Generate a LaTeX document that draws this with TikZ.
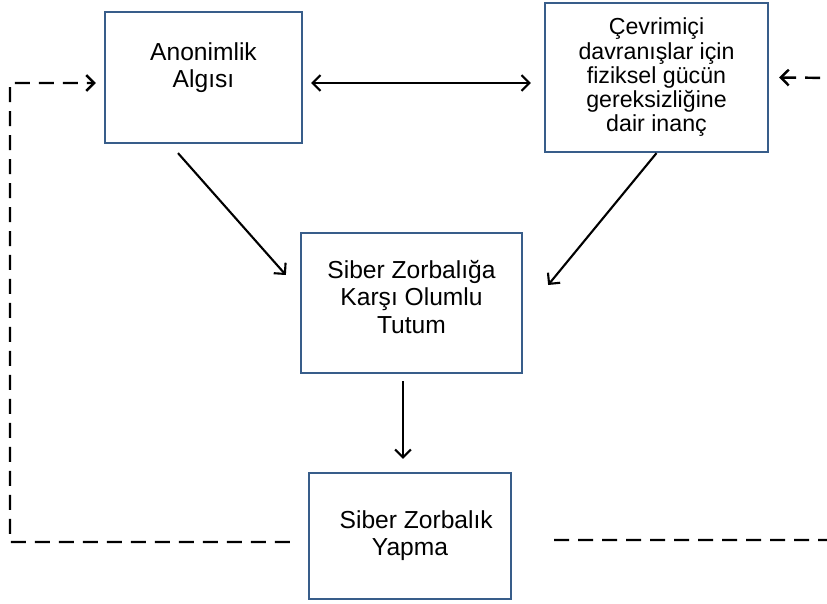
\documentclass[tikz,border=0pt]{standalone}
\usepackage{fontspec}
\setmainfont{Liberation Sans}
\usetikzlibrary{arrows.meta,positioning}
\definecolor{kutumavi}{RGB}{56,93,138}

\begin{document}
\begin{tikzpicture}[x = 0.02cm, y = -0.02cm,
    >={Straight Barb[length=4.5pt,width=9pt]}]
  \tikzset{Kutu/.style = {draw = kutumavi, line width = 1.3pt,
      align = center, inner sep = 0pt,
      font = \fontsize{14}{15.4}\selectfont},
    Ok/.style = {->, line width = 1.2pt},
    Kesik/.style = {Ok, line width = 1.4pt, dash pattern = on 0.3cm off 0.18cm}}
  \clip (0,0) rectangle (827,604);
  % kutular
  \node[Kutu, minimum width = 3.94cm, minimum height = 2.62cm,
    label = {[align = center, yshift = 0.2cm,
      font = \fontsize{14}{15.4}\selectfont]center:Anonimlik\\Algısı}]
    (Anonim) at (203.5,77.5) {};
  \node[Kutu, minimum width = 4.46cm, minimum height = 2.98cm,
    font = \fontsize{13.2}{13.8}\selectfont]
    (Inanc) at (656.5,77.5) {Çevrimiçi\\davranışlar için\\fiziksel gücün\\gereksizliğine\\dair inanç};
  \node[Kutu, minimum width = 4.42cm, minimum height = 2.8cm,
    label = {[align = center, yshift = 0.12cm,
      font = \fontsize{14}{15.4}\selectfont]center:Siber Zorbalığa\\Karşı Olumlu\\Tutum}]
    (Tutum) at (411.5,303) {};
  \node[Kutu, minimum width = 4.04cm, minimum height = 2.52cm]
    (Yapma) at (410,536) {\hspace{0.25cm}Siber Zorbalık\\Yapma};
  % oklar
  \draw[Ok, <->, shorten <= 0.16cm, shorten >= 0.26cm]
    ([yshift=-0.11cm]Anonim.east) -- ([yshift=-0.11cm]Inanc.west);
  \draw[Ok] ([xshift=-0.51cm,yshift=-0.18cm]Anonim.south)
    -- ([xshift=-0.28cm,yshift=0.56cm]Tutum.west);
  \draw[Ok] (Inanc.south) -- ([xshift=0.5cm,yshift=0.36cm]Tutum.east);
  \draw[Ok, shorten <= 0.14cm, shorten >= 0.26cm]
    ([xshift=-0.17cm]Tutum.south) -- ([xshift=-0.17cm]Tutum.south |- Yapma.north);
  % geri bildirim
  \coordinate (SolKose) at (10,83);
  \coordinate (SagKose) at (840,78);
  \draw[Kesik] ([xshift=-0.36cm,yshift=-0.12cm]Yapma.west) -| (SolKose)
    -- ([xshift=-0.16cm,yshift=-0.11cm]Anonim.west);
  \draw[Kesik] ([xshift=0.84cm,yshift=-0.08cm]Yapma.east) -| (SagKose)
    -- ([xshift=0.2cm]Inanc.east);
\end{tikzpicture}
\end{document}
